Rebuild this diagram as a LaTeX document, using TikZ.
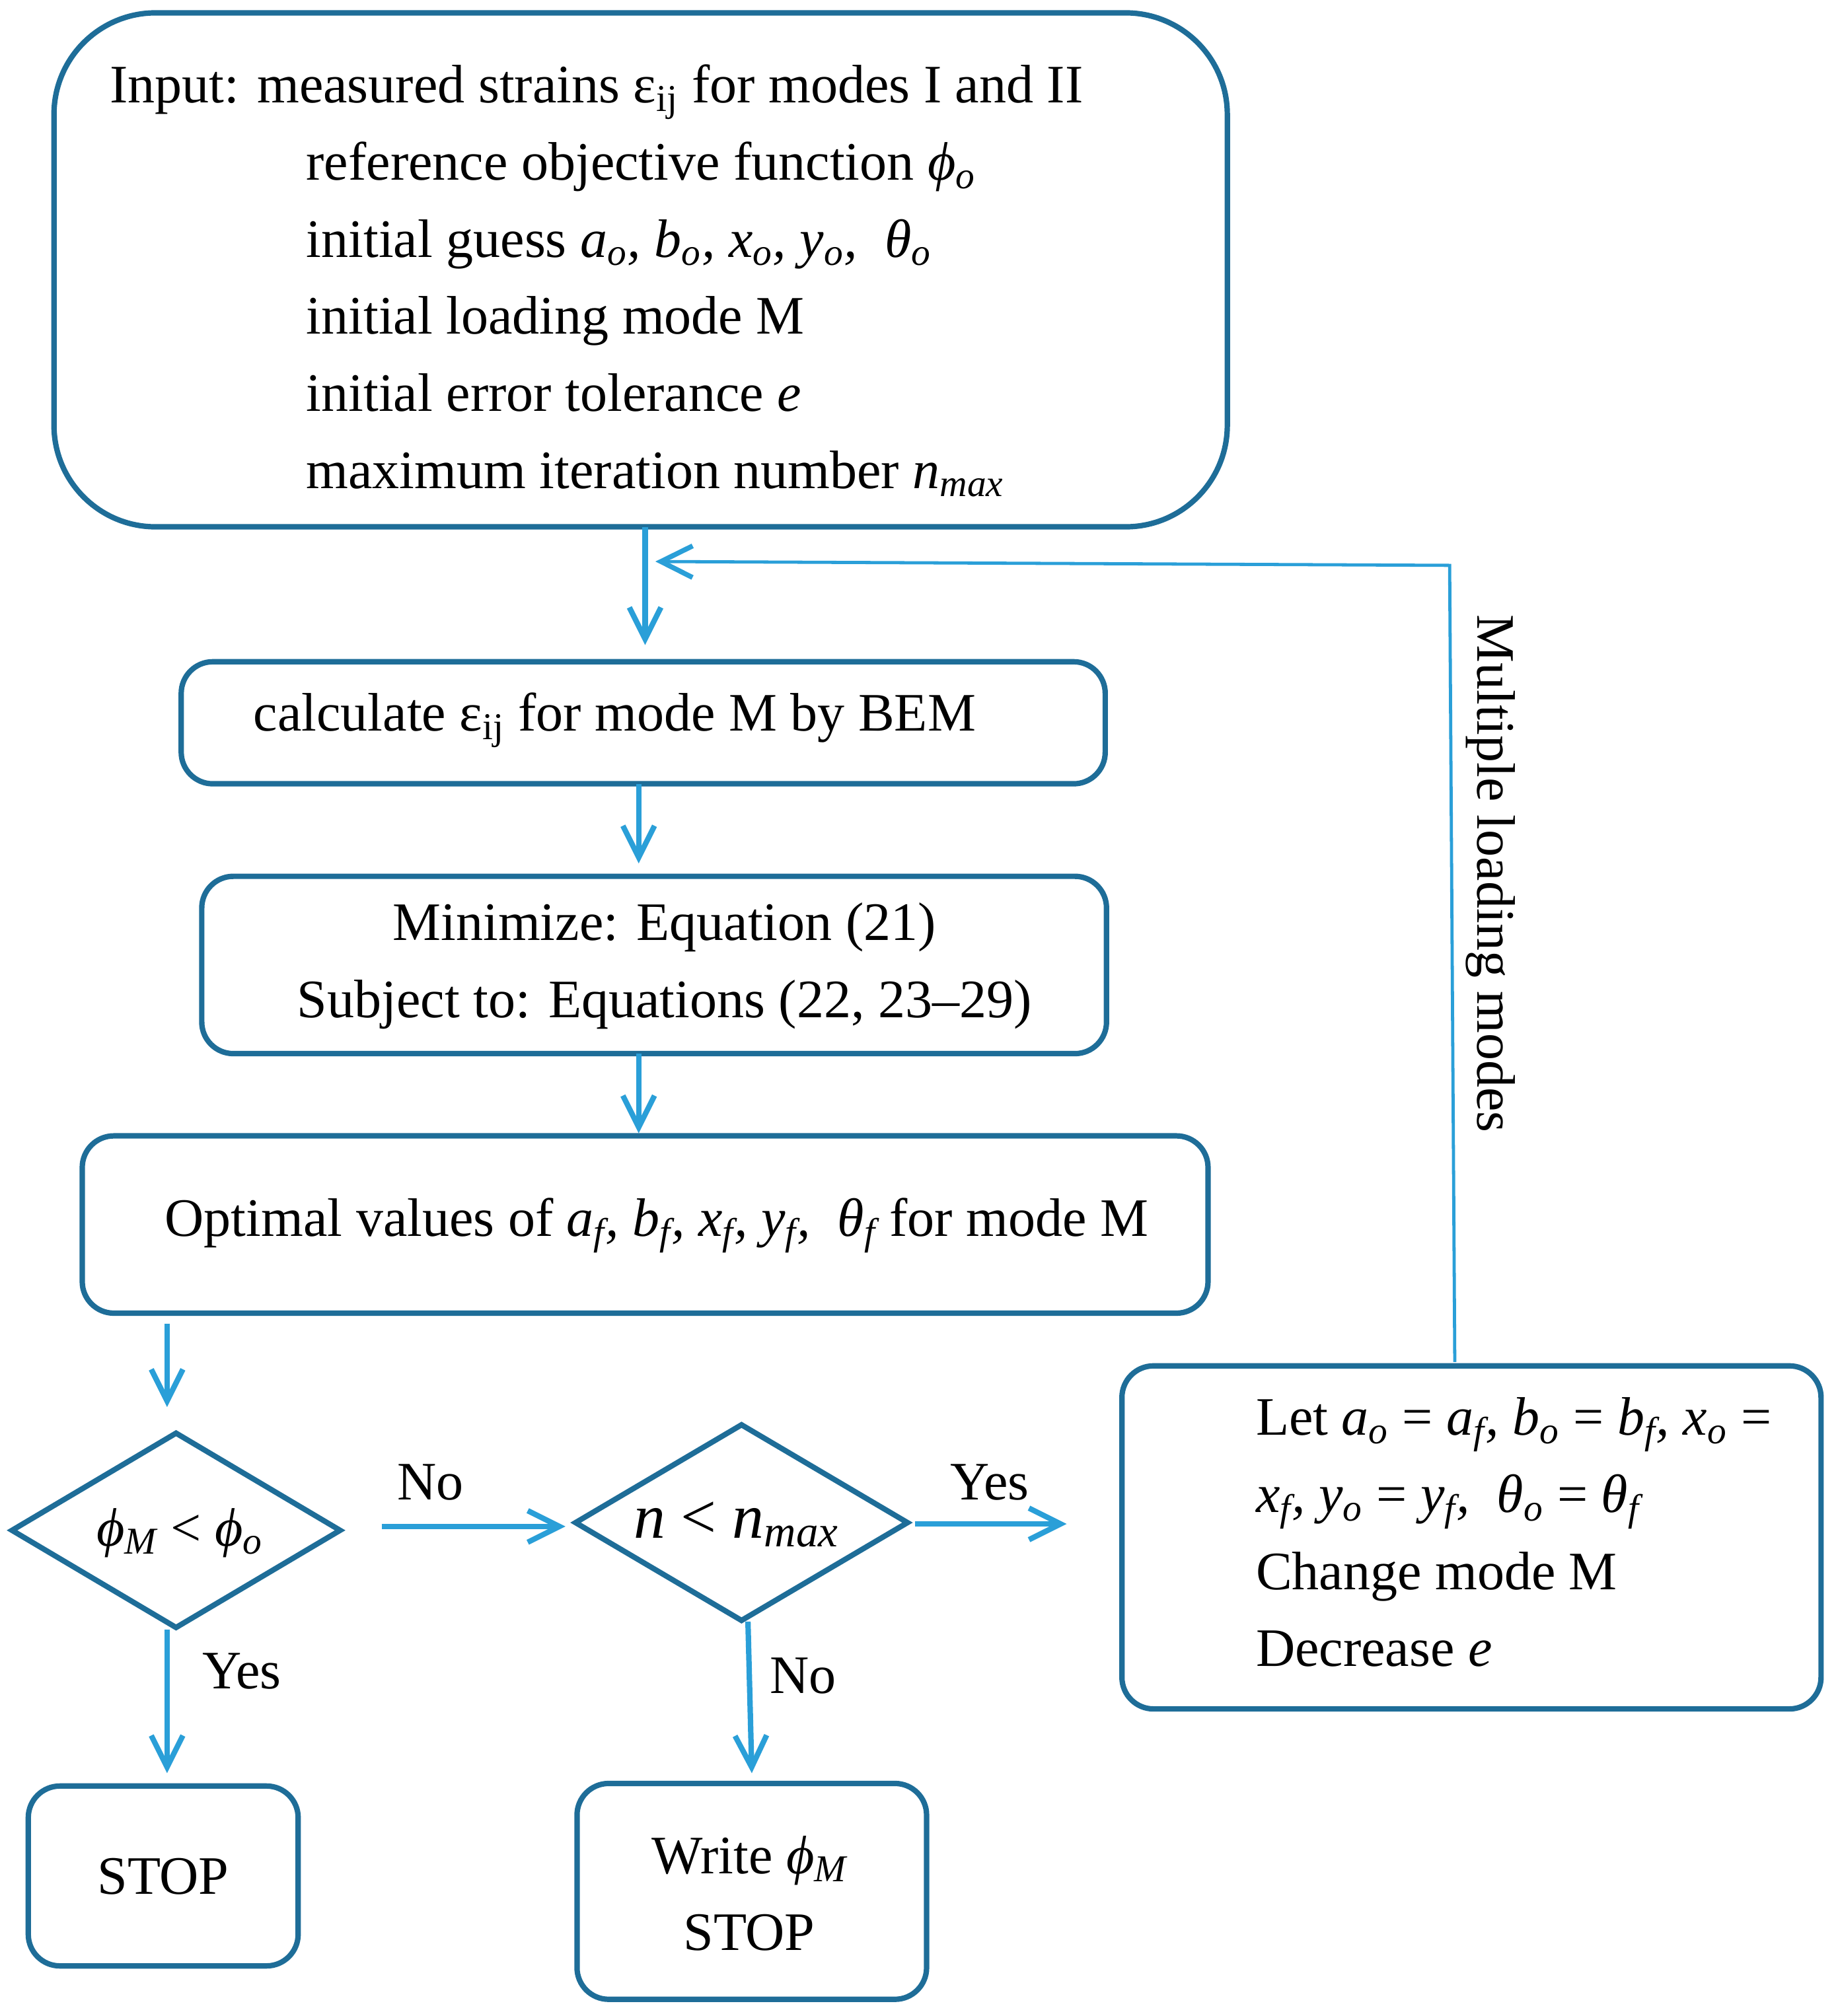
\documentclass[tikz,border=0pt]{standalone}
\usepackage{fontspec}
\setmainfont{Liberation Serif}
\usetikzlibrary{shapes.geometric,arrows.meta}
\newcommand\sbs[1]{\textsubscript{\itshape #1}}
\newcommand\sbu[1]{\textsubscript{#1}}
\begin{document}
\begin{tikzpicture}[x=0.02cm,y=-0.02cm,
  box/.style={draw=boxc,line width=2.4pt,rounded corners=14pt},
  arr/.style={draw=arrc,line width=2.4pt,-{Straight Barb[length=14pt,width=14pt,line width=2.4pt]}},
  txt/.style={font=\fontsize{24}{28}\selectfont,inner sep=0pt,anchor=base west},
  dia/.style={draw=boxc,line width=2.4pt,diamond,inner sep=0pt}]
\definecolor{boxc}{HTML}{1E6D98}
\definecolor{arrc}{HTML}{2A9FD8}
\useasboundingbox (0,0) rectangle (1430,1569);
% boxes
\draw[box,rounded corners=45pt] (42,10) rectangle (955,410);
\node[txt] (t1) at (85,80) {Input: measured strains ε\sbu{ij} for modes I and II};
\node[txt] (t2) at (238,140) {reference objective function \textit{ϕ\sbs{o}}};
\node[txt] (t3) at (238,200) {initial guess \textit{a\sbs{o}, b\sbs{o}, x\sbs{o}, y\sbs{o}, \ θ\sbs{o}}};
\node[txt] (t4) at (238,260) {initial loading mode M};
\node[txt] (t5) at (238,320) {initial error tolerance \textit{e}};
\node[txt] (t6) at (238,380) {maximum iteration number \textit{n\sbs{max}}};
\coordinate (inb) at (502,410);
\coordinate (calcT) at (502,502);
\draw[box] (141,515) rectangle (860,610);
\node[txt] (c1) at (197,569) {calculate ε\sbu{ij} for mode M by BEM};
\draw[box] (157,682) rectangle (861,820);
\node[txt,anchor=base] (m1) at (517,732) {Minimize: Equation (21)};
\node[txt,anchor=base] (m2) at (517,792) {Subject to: Equations (22, 23–29)};
\draw[box] (64,884) rectangle (940,1022);
\node[txt] (o1) at (128,962) {Optimal values of \textit{a\sbs{f}, b\sbs{f}, x\sbs{f}, y\sbs{f}, \ θ\sbs{f}} for mode M};
\draw[box] (873,1063) rectangle (1417,1330);
\node[txt] (l1) at (977,1117) {Let \textit{a\sbs{o}} = \textit{a\sbs{f}, b\sbs{o}} = \textit{b\sbs{f}, x\sbs{o}} =};
\node[txt] (l2) at (977,1177) {\textit{x\sbs{f}, y\sbs{o}} = \textit{y\sbs{f}, \ θ\sbs{o}} = \textit{θ\sbs{f}}};
\node[txt] (l3) at (977,1237) {Change mode M};
\node[txt] (l4) at (977,1297) {Decrease \textit{e}};
\draw[box] (22,1390) rectangle (232,1530);
\node[txt,anchor=base] (s1) at (127,1474) {STOP};
\draw[box] (449,1388) rectangle (721,1556);
\node[txt,anchor=base] (w1) at (583,1458) {Write \textit{ϕ\sbs{M}}};
\node[txt,anchor=base] (w2) at (583,1518) {STOP};
% diamonds
\node[dia,minimum width=257*0.02cm,minimum height=153*0.02cm] (d1) at (137,1191) {};
\node[txt,anchor=base] at (140,1203) {\textit{ϕ\sbs{M}} < \textit{ϕ\sbs{o}}};
\node[dia,minimum width=260*0.02cm,minimum height=154*0.02cm] (d2) at (577,1185) {};
\node[txt,anchor=base,font=\fontsize{28}{32}\selectfont] at (573,1197) {\textit{n} < \textit{n\sbs{max}}};
% arrows
\draw[arr] (inb) -- (calcT);
\draw[arr] (497,610) -- (497,672);
\draw[arr] (497,820) -- (497,882);
\coordinate (oa) at (130,1030); \coordinate (ob) at (130,1095);
\draw[arr] (oa) -- (ob);
\coordinate (na) at (297,1188); \coordinate (nb) at (440,1188);
\draw[arr] (na) -- (nb);
\node[txt,anchor=base] at (335,1167) {No};
\coordinate (ya) at (712,1186); \coordinate (yb) at (830,1186);
\draw[arr] (ya) -- (yb);
\node[txt,anchor=base] at (770,1167) {Yes};
\coordinate (da) at (130,1268); \coordinate (db) at (130,1380);
\draw[arr] (da) -- (db);
\node[txt,anchor=base] at (188,1314) {Yes};
\coordinate (ea) at (582,1262); \coordinate (eb) at (585,1380);
\draw[arr] (ea) -- (eb);
\node[txt,anchor=base] at (625,1318) {No};
% feedback
\coordinate (fa) at (1132,1060); \coordinate (fb) at (1128,440); \coordinate (fc) at (510,437);
\draw[draw=arrc,line width=1.4pt,-{Straight Barb[length=14pt,width=14pt,line width=2.2pt]}] (fa) -- (fb) -- (fc);
\node[txt,anchor=center,rotate=-90] (ml) at (1160,680) {Multiple loading modes};
\end{tikzpicture}
\end{document}
